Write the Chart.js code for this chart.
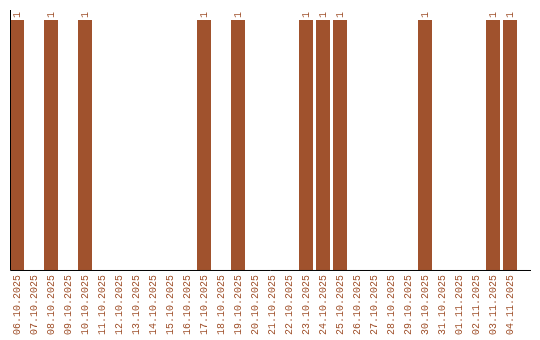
<!DOCTYPE html>
<html lang="de">
<head>
<meta charset="UTF-8">
<title>Tage</title>
<script src="https://cdn.jsdelivr.net/npm/chart.js"></script>
<style>
body{margin:0;background:#fff;}
#wrap{width:540px;height:340px;position:relative;}
</style>
</head>
<body>
<div id="wrap"><canvas id="c"></canvas></div>
<script>
const dates = ["06.10.2025","07.10.2025","08.10.2025","09.10.2025","10.10.2025","11.10.2025","12.10.2025","13.10.2025","14.10.2025","15.10.2025",
  "16.10.2025","17.10.2025","18.10.2025","19.10.2025","20.10.2025","21.10.2025","22.10.2025","23.10.2025","24.10.2025","25.10.2025",
  "26.10.2025","27.10.2025","28.10.2025","29.10.2025","30.10.2025","31.10.2025","01.11.2025","02.11.2025","03.11.2025","04.11.2025"];
const counts = [1,0,1,0,1,0,0,0,0,0, 0,1,0,1,0,0,0,1,1,1, 0,0,0,0,1,0,0,0,1,1];

const brown = '#a0522d';
const monoFont = '"Liberation Mono", "DejaVu Sans Mono", monospace';

// axis lines + rotated value labels
const extras = {
  id: 'extras',
  afterDatasetsDraw(chart) {
    const ctx = chart.ctx, area = chart.chartArea;
    ctx.save();
    ctx.strokeStyle = '#000';
    ctx.lineWidth = 1;
    ctx.beginPath();
    ctx.moveTo(10.5, area.top);
    ctx.lineTo(10.5, area.bottom + 0.5);
    ctx.lineTo(531, area.bottom + 0.5);
    ctx.stroke();

    ctx.fillStyle = brown;
    ctx.font = '10px ' + monoFont;
    ctx.textAlign = 'left';
    ctx.textBaseline = 'middle';
    chart.getDatasetMeta(0).data.forEach((bar, i) => {
      if (!counts[i]) return;
      ctx.save();
      ctx.translate(bar.x, bar.y - 2);
      ctx.rotate(-Math.PI / 2);
      ctx.fillText(String(counts[i]), 0, 0);
      ctx.restore();
    });
    ctx.restore();
  }
};

new Chart(document.getElementById('c'), {
  type: 'bar',
  data: {
    labels: dates,
    datasets: [{
      data: counts,
      backgroundColor: brown,
      borderWidth: 0,
      barPercentage: 1,
      categoryPercentage: 14 / 17
    }]
  },
  options: {
    responsive: true,
    maintainAspectRatio: false,
    animation: false,
    events: [],
    layout: { padding: { left: 8.5, right: 21.5, top: 10, bottom: 0 } },
    plugins: { legend: { display: false }, tooltip: { enabled: false } },
    scales: {
      x: {
        grid: { display: false, drawTicks: false },
        border: { display: false },
        ticks: {
          color: brown,
          font: { family: monoFont, size: 10 },
          minRotation: 90,
          maxRotation: 90,
          autoSkip: false,
          padding: 5
        }
      },
      y: {
        display: false,
        min: 0,
        max: 1.04
      }
    }
  },
  plugins: [extras]
});
</script>
</body>
</html>
